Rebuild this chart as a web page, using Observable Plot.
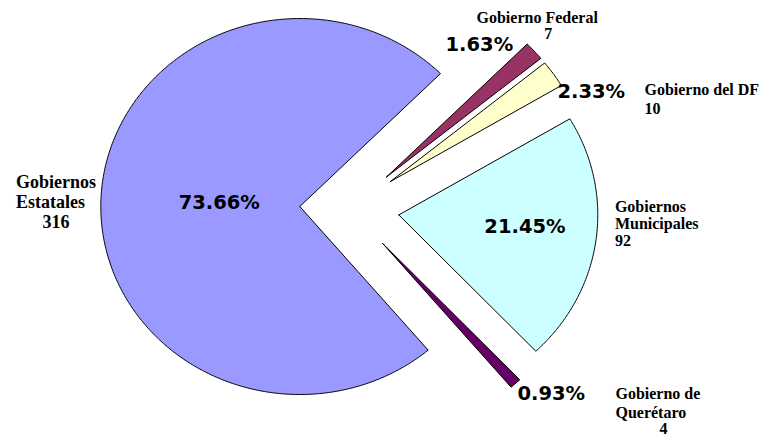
<!DOCTYPE html>
<html><head><meta charset="utf-8">
<script src="https://cdn.jsdelivr.net/npm/d3@7"></script>
<script src="https://cdn.jsdelivr.net/npm/@observablehq/plot@0.6"></script>
<style>html,body{margin:0;padding:0;background:#fff}</style>
</head><body><div id="chart"></div>
<script>
// ---- data (clockwise from the top-right) ----
const categories = ["Gobierno Federal", "Gobierno del DF", "Gobiernos Municipales", "Gobierno de Querétaro", "Gobiernos Estatales"];
const nameLines = ["Gobierno Federal", "Gobierno del DF", "Gobiernos\nMunicipales", "Gobierno de\nQuerétaro", "Gobiernos\nEstatales"];
const counts = [7, 10, 92, 4, 316];
const percentLabels = ["1.63%", "2.33%", "21.45%", "0.93%", "73.66%"];
const colors = ["#993366", "#FFFFCC", "#CCFFFF", "#660066", "#9999FF"];

// ---- layout (label placement relative to each slice) ----
const layout = {
  "Gobierno Federal":      {pct: {r: 1, anchor: "end", dx: -21, dy: 0}, name: {r: 1, anchor: "middle", dx: 3, dy: -28, size: 16, lh: 1}, count: {anchor: "middle", dx: 14, dy: -12}},
  "Gobierno del DF":       {pct: {r: 1, anchor: "start", dx: 4, dy: 24}, name: {r: 1, anchor: "start", dx: 91, dy: 21, size: 16, lh: 1}, count: {anchor: "start", dx: 91, dy: 40}},
  "Gobiernos Municipales": {pct: {r: 0.64, anchor: "middle", dx: 0, dy: 2}, name: {r: 1, anchor: "start", dx: 19, dy: -12, size: 16, lh: 1.06}, count: {anchor: "start", dx: 19, dy: 5}},
  "Gobierno de Querétaro": {pct: {r: 1, anchor: "start", dx: 2, dy: 16}, name: {r: 1, anchor: "start", dx: 100, dy: 34, size: 16, lh: 1.15}, count: {anchor: "middle", dx: 148, dy: 50}},
  "Gobiernos Estatales":   {pct: {r: 0.4, anchor: "middle", dx: -1, dy: 6}, name: {r: 1, anchor: "start", dx: -85, dy: 9, size: 18, lh: 1.11}, count: {anchor: "middle", dx: -45, dy: 29, size: 18}}
};

const total = d3.sum(counts);
const startDeg = 45;
const explode = 0.25;
let acc = startDeg;
const slices = categories.map((c, i) => {
  const a0 = acc, a1 = acc + counts[i] / total * 360;
  acc = a1;
  const m = (a0 + a1) / 2 * Math.PI / 180;
  return {category: c, i, a0, a1, m, ox: explode * Math.sin(m), oy: explode * Math.cos(m)};
});

const polys = slices.flatMap(s => {
  const pts = [{category: s.category, x: s.ox, y: s.oy}];
  const n = Math.max(2, Math.ceil((s.a1 - s.a0) / 0.5));
  for (let k = 0; k <= n; k++) {
    const t = (s.a0 + (s.a1 - s.a0) * k / n) * Math.PI / 180;
    pts.push({category: s.category, x: s.ox + Math.sin(t), y: s.oy + Math.cos(t)});
  }
  pts.push({category: s.category, x: s.ox, y: s.oy});
  return pts;
});

const at = (s, r) => ({x: s.ox + r * Math.sin(s.m), y: s.oy + r * Math.cos(s.m)});

const textMarks = slices.flatMap(s => {
  const L = layout[s.category];
  const p = at(s, L.pct.r), q = at(s, L.name.r);
  return [
    Plot.text([{...p, t: percentLabels[s.i]}], {x: "x", y: "y", text: "t", textAnchor: L.pct.anchor, lineAnchor: "bottom",
      dx: L.pct.dx, dy: L.pct.dy, fontFamily: "DejaVu Sans", fontWeight: "bold", fontSize: 19.5, fill: "black"}),
    Plot.text([{...q, t: nameLines[s.i]}], {x: "x", y: "y", text: "t", textAnchor: L.name.anchor, lineAnchor: "bottom",
      dx: L.name.dx, dy: L.name.dy, lineHeight: L.name.lh, fontFamily: "Liberation Serif", fontWeight: "bold", fontSize: L.name.size, fill: "black"}),
    Plot.text([{...q, t: String(counts[s.i])}], {x: "x", y: "y", text: "t", textAnchor: L.count.anchor, lineAnchor: "bottom",
      dx: L.count.dx, dy: L.count.dy, fontFamily: "Liberation Serif", fontWeight: "bold", fontSize: L.count.size || 16, fill: "black"})
  ];
});

const chart = Plot.plot({
  width: 760, height: 438,
  margin: 0,
  x: {domain: [-349 / 199, (760 - 349) / 199], axis: null},
  y: {domain: [-(438 - 208) / 188, 208 / 188], axis: null},
  color: {domain: categories, range: colors},
  style: {background: "#fff", overflow: "visible"},
  marks: [
    Plot.line(polys, {x: "x", y: "y", z: "category", fill: "category", stroke: "black", strokeWidth: 1, strokeLinejoin: "miter", curve: "linear"}),
    ...textMarks
  ]
});
document.getElementById("chart").appendChild(chart);
</script>
</body></html>
